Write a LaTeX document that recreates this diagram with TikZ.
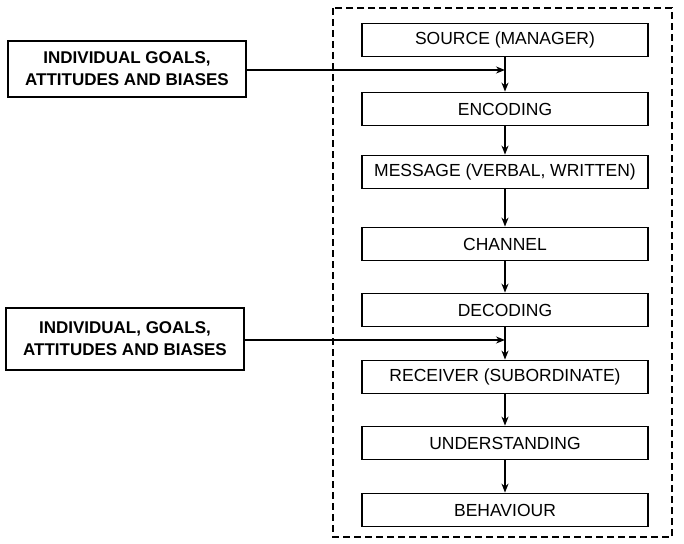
\documentclass[tikz,border=0pt]{standalone}
\usepackage{fontspec}
\setmainfont{Liberation Sans}
\usetikzlibrary{arrows.meta}
\begin{document}
\begin{tikzpicture}[x=1pt,y=-1pt,
  flowbox/.style={draw, line width=1.8pt, minimum width=286pt, minimum height=33pt, inner sep=0pt,
    font=\fontsize{17.5}{20}\selectfont},
  sidebox/.style={draw, line width=1.8pt, minimum width=238pt, minimum height=56pt, inner sep=0pt, align=center,
    font=\bfseries\fontsize{17}{22}\selectfont},
  conn/.style={line width=1.4pt, -{Stealth[length=9pt,width=7pt]}}]
\useasboundingbox (0,0) rectangle (684,543);
\draw[line width=1.4pt, dash pattern=on 7pt off 4pt] (333,8) rectangle (672,537);
\node[flowbox] (src) at (505,40) {SOURCE (MANAGER)};
\node[flowbox] (enc) at (505,109) {ENCODING};
\node[flowbox] (msg) at (505,172) {MESSAGE (VERBAL, WRITTEN)};
\node[flowbox] (chn) at (505,244) {CHANNEL};
\node[flowbox] (dec) at (505,310) {DECODING};
\node[flowbox] (rcv) at (505,377) {RECEIVER (SUBORDINATE)};
\node[flowbox] (und) at (505,443) {UNDERSTANDING};
\node[flowbox] (beh) at (505,510) {BEHAVIOUR};
\node[sidebox] (g1) at (127,69) {INDIVIDUAL GOALS,\\ATTITUDES AND BIASES};
\node[sidebox, minimum height=62pt] (g2) at (125,339) {INDIVIDUAL, GOALS,\\ATTITUDES AND BIASES};
\draw[conn] (src) -- (enc);
\draw[conn] (enc) -- (msg);
\draw[conn] (msg) -- (chn);
\draw[conn] (chn) -- (dec);
\draw[conn] (dec) -- (rcv);
\draw[conn] (rcv) -- (und);
\draw[conn] (und) -- (beh);
\coordinate (j1) at (505,70);
\coordinate (j2) at (505,340);
\draw[conn] (g1.east |- j1) -- (j1);
\draw[conn] (g2.east |- j2) -- (j2);
\end{tikzpicture}
\end{document}
